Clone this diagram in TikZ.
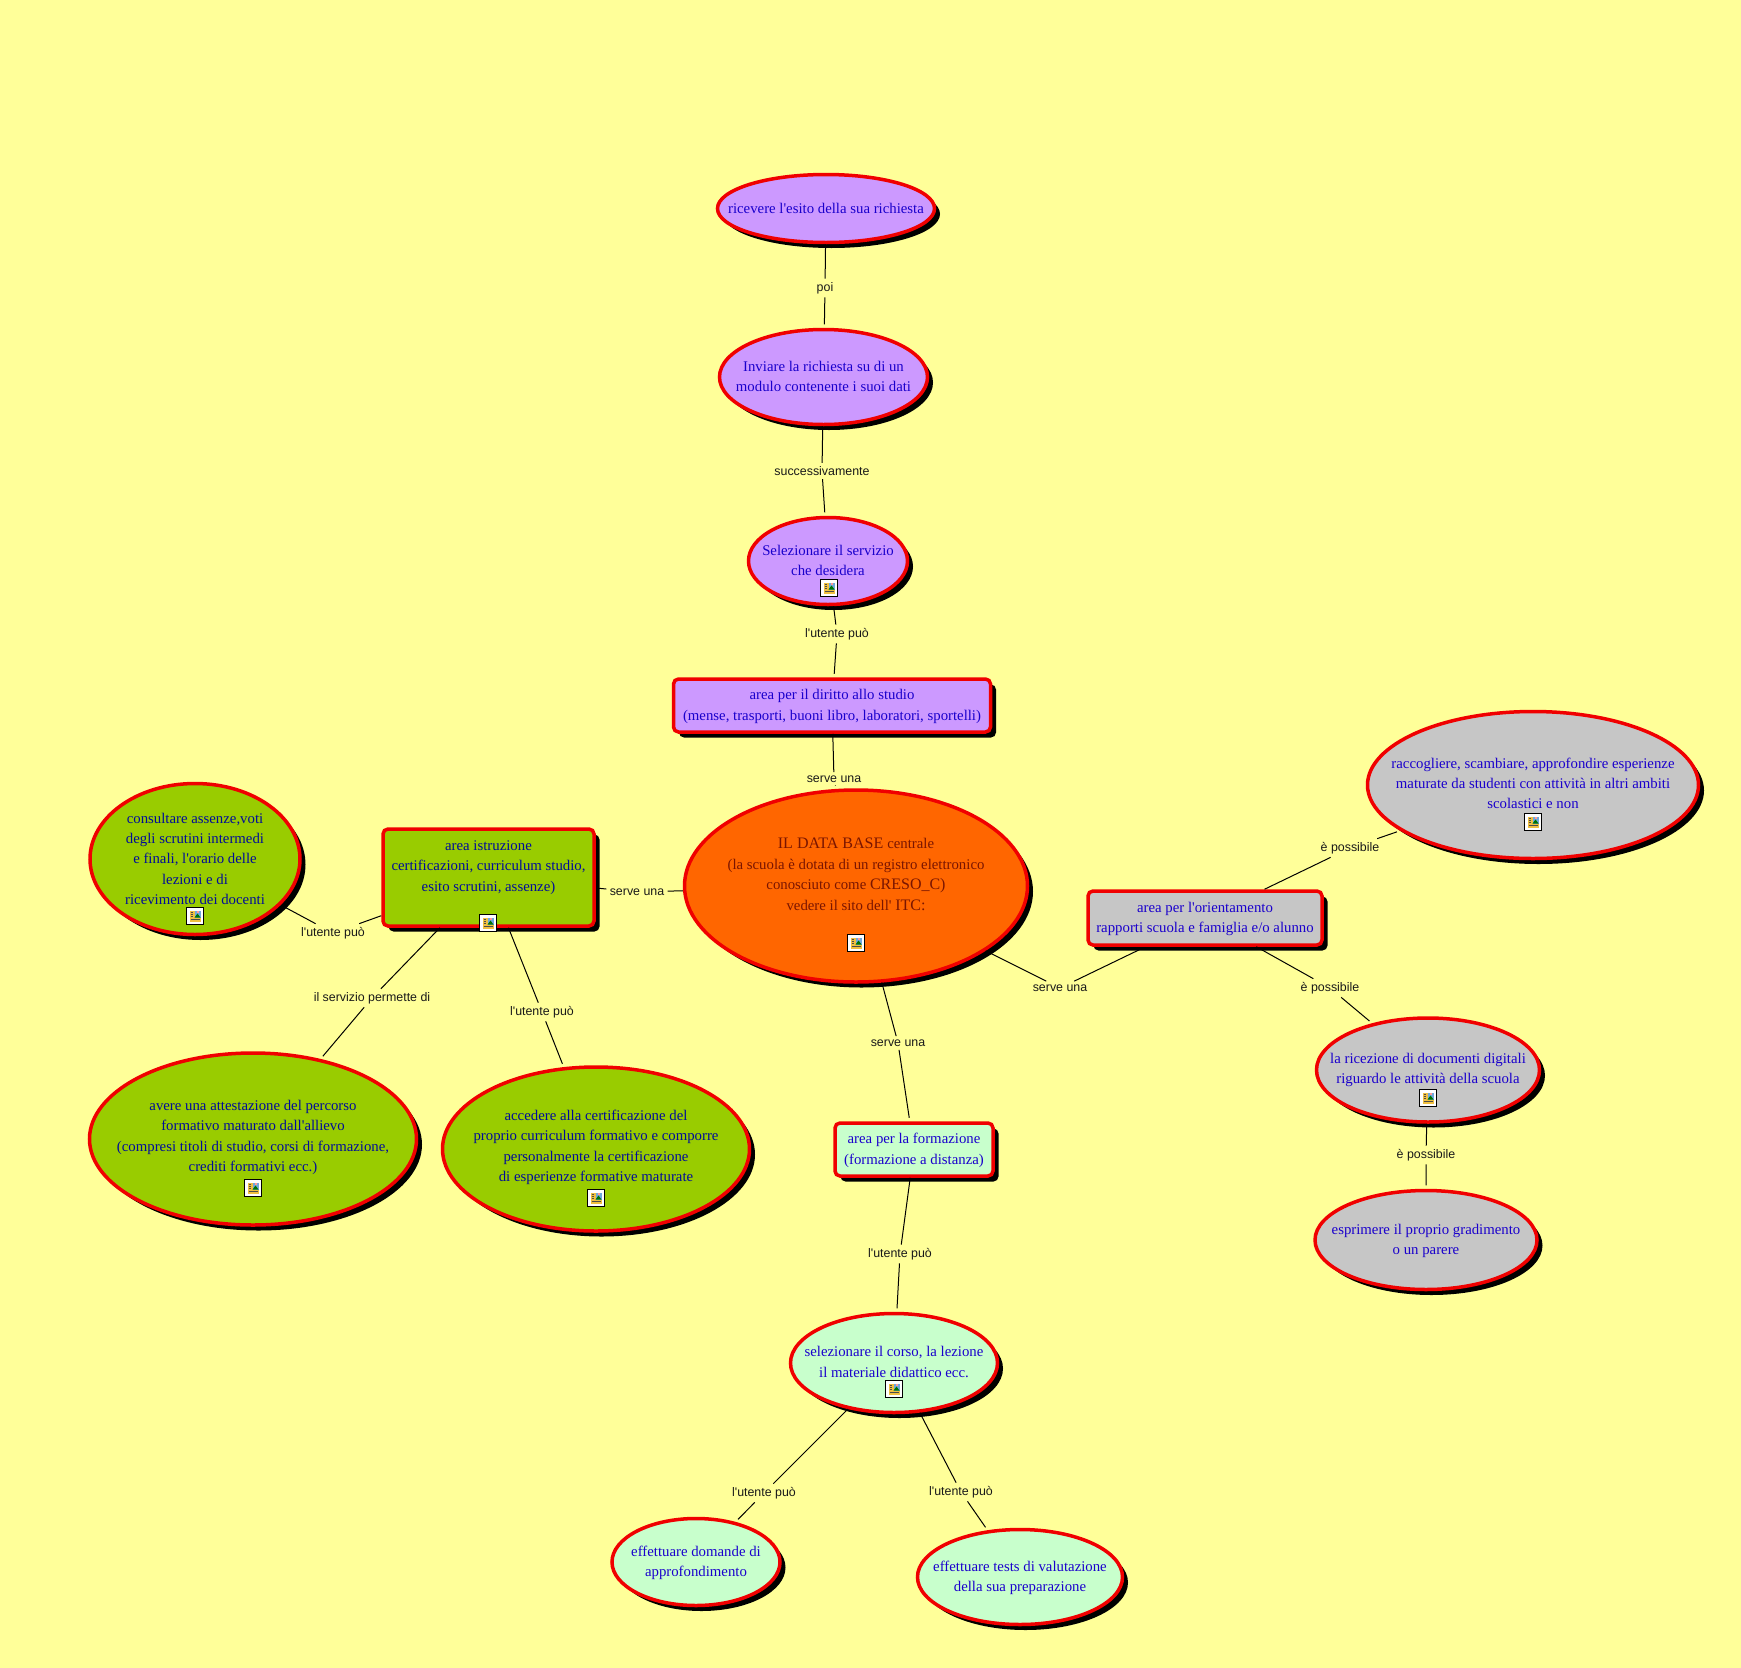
\documentclass[tikz,border=0pt]{standalone}
\usepackage{fontspec}
\setmainfont{Liberation Serif}
\setsansfont{Liberation Sans}
\usepackage{tikz}
\usetikzlibrary{shapes.geometric,shadows}

\definecolor{sfondo}{HTML}{FFFF99}
\definecolor{viola}{HTML}{CC99FF}
\definecolor{arancio}{HTML}{FF6600}
\definecolor{verde}{HTML}{99CC00}
\definecolor{grigio}{HTML}{C6C6C6}
\definecolor{menta}{HTML}{C8FFCC}
\definecolor{blu}{HTML}{1A00CC}
\definecolor{blunotte}{HTML}{000C99}
\definecolor{bordo}{HTML}{7A1500}
\definecolor{cornice}{HTML}{F00000}
\definecolor{oro}{HTML}{F0C040}
\definecolor{cielo}{HTML}{6FA8DC}

\newcommand{\righe}[2]{\makebox[0pt]{\raisebox{#1pt}[0pt][0pt]{\setlength{\tabcolsep}{0pt}\begin{tabular}[c]{c}#2\end{tabular}}}}
\newcommand{\apo}{\textquotesingle{}}

\begin{document}
\begin{tikzpicture}[x=1pt,y=-1pt]
        \tikzset{
            concetto/.style={
                draw=cornice,line width=3.5pt,text=blu,
                font=\fontsize{14.8}{20.4}\selectfont,inner sep=0pt,
                drop shadow={shadow xshift=5.5pt,shadow yshift=-5.5pt,opacity=1,fill=black}
            },
            ovale/.style 2 args={concetto,ellipse,minimum width=#1,minimum height=#2},
            scatola/.style 2 args={concetto,rectangle,rounded corners=5pt,minimum width=#1,minimum height=#2},
            frase/.style={font=\sffamily\fontsize{12.4}{14}\selectfont,inner sep=1.5pt,outer sep=2pt,text=black!90},
            link/.style={line width=1pt,black,shorten >=3.5pt},
            iconcina/.style={draw=black,fill=white,line width=1.1pt,minimum size=17pt,inner sep=0pt},
            immagine/.pic={
                \fill[oro] (-5.5,-5.5) rectangle (5.5,5.5);
                \fill[cielo] (-0.5,-5.5) rectangle (5.5,1.5);
                \fill[green!45!black] (-0.5,1.5) -- (2.5,-2.5) -- (5.5,1.5) -- cycle;
                \fill[red!40!white] (2,-5) rectangle (4,-3);
                \draw[black!70,line width=0.5pt] (-4.5,-3.5) -- (-2,-3.5) (-4.5,-1.5) -- (-2,-1.5) (-4.5,0.5) -- (-2,0.5) (-4.5,3.5) -- (4.5,3.5);
            }
        }
        \fill[sfondo] (0,0) rectangle (1741,1668);
        \useasboundingbox (0,0) rectangle (1741,1668);

        % centro
        \node[ovale={343pt}{192pt},fill=arancio,text=bordo] (centro) at (856,886) {\righe{7}{\fontsize{16}{20.4}\selectfont IL DATA BASE {\fontsize{14.8}{20.4}\selectfont centrale}\\\fontsize{14.8}{20.4}\selectfont (la scuola è dotata di un registro elettronico\\conosciuto come {\fontsize{16}{20.4}\selectfont CRESO\_C)}\\vedere il sito dell\apo\ {\fontsize{16}{20.4}\selectfont ITC:}}};

        % area diritto allo studio
        \node[ovale={217pt}{68pt},fill=viola] (esito) at (826,208.5) {\righe{-5}{ricevere l\apo esito della sua richiesta}};
        \node[ovale={208pt}{95pt},fill=viola] (modulo) at (823.5,377) {\righe{-4}{Inviare la richiesta su di un\\modulo contenente i suoi dati}};
        \node[ovale={159pt}{87pt},fill=viola] (servizio) at (828,561) {\righe{-4}{Selezionare il servizio\\che desidera}};
        \node[scatola={317pt}{53pt},fill=viola] (diritto) at (832,705.5) {\righe{-4}{area per il diritto allo studio\\(mense, trasporti, buoni libro, laboratori, sportelli)}};

        % area istruzione
        \node[scatola={211pt}{97pt},fill=verde,text=blunotte] (istruzione) at (488.5,877.5) {\righe{7}{area istruzione\\certificazioni, curriculum studio,\\esito scrutini, assenze)}};
        \node[ovale={210pt}{151pt},fill=verde,text=blunotte] (assenze) at (195,859) {\righe{-4.5}{consultare assenze,voti\\degli scrutini intermedi\\e finali, l\apo orario delle\\lezioni e di\\ricevimento dei docenti}};
        \node[ovale={327pt}{172pt},fill=verde,text=blunotte] (attestazione) at (253,1139) {\righe{-1.5}{avere una attestazione del percorso\\formativo maturato dall\apo allievo\\(compresi titoli di studio, corsi di formazione,\\crediti formativi ecc.)}};
        \node[ovale={307pt}{164pt},fill=verde,text=blunotte] (curriculum) at (596,1149) {\righe{-1.5}{accedere alla certificazione del\\proprio curriculum formativo e comporre\\personalmente la certificazione\\di esperienze formative maturate}};

        % area formazione
        \node[scatola={158pt}{53pt},fill=menta] (formazione) at (914,1149.5) {\righe{-4}{area per la formazione\\(formazione a distanza)}};
        \node[ovale={207pt}{99pt},fill=menta] (corso) at (894,1363) {\righe{-3.5}{selezionare il corso, la lezione\\il materiale didattico ecc.}};
        \node[ovale={168pt}{87pt},fill=menta] (domande) at (696,1562) {\righe{-4}{effettuare domande di\\approfondimento}};
        \node[ovale={205pt}{95pt},fill=menta] (tests) at (1020,1577) {\righe{-4}{effettuare tests di valutazione\\della sua preparazione}};

        % area orientamento
        \node[scatola={234pt}{54pt},fill=grigio] (orientamento) at (1205,918) {\righe{-4}{area per l\apo orientamento\\rapporti scuola e famiglia e/o alunno}};
        \node[ovale={331pt}{147pt},fill=grigio] (esperienze) at (1533,785) {\righe{-3}{raccogliere, scambiare, approfondire esperienze\\maturate da studenti con attività in altri ambiti\\scolastici e non}};
        \node[ovale={223pt}{104pt},fill=grigio] (ricezione) at (1428,1070) {\righe{-3}{la ricezione di documenti digitali\\riguardo le attività della scuola}};
        \node[ovale={222pt}{99pt},fill=grigio] (parere) at (1426,1240) {\righe{-4}{esprimere il proprio gradimento\\o un parere}};

        % frasi di collegamento
        \node[frase] (poi) at (825,288) {poi};
        \node[frase] (succ) at (822,471) {successivamente};
        \node[frase] (puodir) at (837,634) {l\apo utente può};
        \node[frase] (servedir) at (834,779) {serve una};
        \node[frase] (serveist) at (637,892) {serve una};
        \node[frase] (puoass) at (333,933) {l\apo utente può};
        \node[frase] (permette) at (372,998) {il servizio permette di};
        \node[frase] (puocert) at (542,1012) {l\apo utente può};
        \node[frase] (serveform) at (898,1043) {serve una};
        \node[frase] (serveori) at (1060,988) {serve una};
        \node[frase] (possa) at (1350,848) {è possibile};
        \node[frase] (possb) at (1330,988) {è possibile};
        \node[frase] (possc) at (1426,1155) {è possibile};
        \node[frase] (puoform) at (900,1254) {l\apo utente può};
        \node[frase] (puodom) at (764,1493) {l\apo utente può};
        \node[frase] (puotest) at (961,1492) {l\apo utente può};

        \draw[link] (esito) -- (poi) -- (modulo);
        \draw[link] (modulo) -- (succ) -- (servizio);
        \draw[link] (servizio) -- (puodir) -- (diritto);
        \draw[link] (diritto) -- (servedir) -- (centro);
        \draw[link] (centro) -- (serveist) -- (istruzione);
        \draw[link] (istruzione) -- (puoass) -- (assenze);
        \draw[link] (istruzione) -- (permette) -- (attestazione);
        \draw[link] (istruzione) -- (puocert) -- (curriculum);
        \draw[link] (centro) -- (serveform) -- (formazione);
        \draw[link] (centro) -- (serveori) -- (orientamento);
        \draw[link] (orientamento) -- (possa) -- (esperienze);
        \draw[link] (orientamento) -- (possb) -- (ricezione);
        \draw[link] (ricezione) -- (possc) -- (parere);
        \draw[link] (formazione) -- (puoform) -- (corso);
        \draw[link] (corso) -- (puodom) -- (domande);
        \draw[link] (corso) -- (puotest) -- (tests);

        % icone
        \foreach \nome/\px/\py in {icoserv/829/588,icocentro/856/943,icoist/488/923,icoass/195/916,icoatt/253/1188,icocur/596/1198,icocorso/894/1389,icoesp/1533/822,icoric/1428/1098}{
            \node[iconcina] (\nome) at (\px,\py) {};
            \pic at (\px,\py) {immagine};
        }
    \end{tikzpicture}
\end{document}
